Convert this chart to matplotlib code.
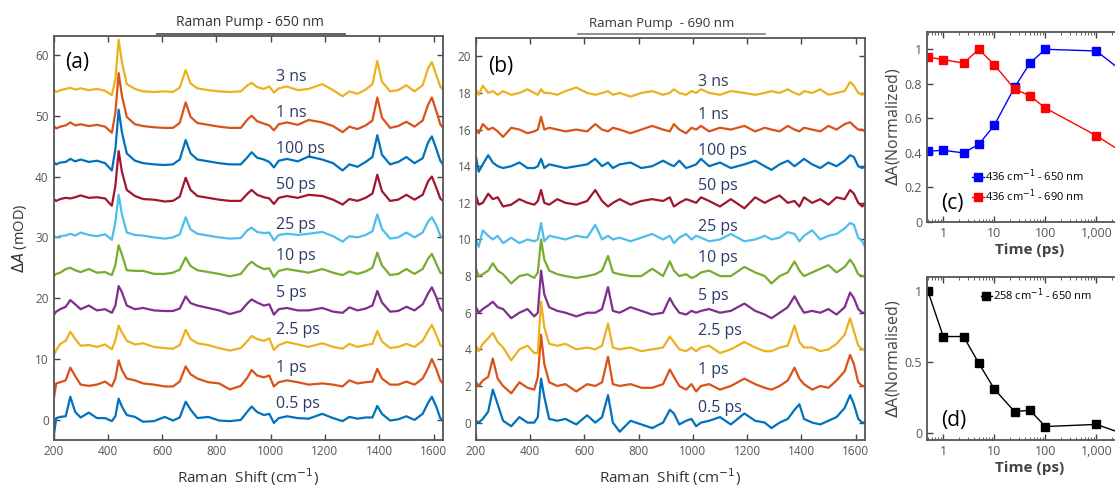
import matplotlib
matplotlib.use("Agg")
import matplotlib.pyplot as plt
from matplotlib.ticker import FixedLocator, FuncFormatter, LogLocator, NullFormatter

plt.rcParams["font.family"] = ["Open Sans", "DejaVu Sans"]

# ---- data -------------------------------------------------------------
raman_shift = [200, 210, 225, 245, 262, 280, 300, 330, 360, 390, 415, 428, 440, 452, 470,
               500, 530, 570, 610, 640, 665, 687, 705, 730, 770, 810, 850, 890, 915, 930,
               950, 975, 995, 1012, 1030, 1060, 1100, 1140, 1190, 1230, 1265, 1290, 1320,
               1350, 1375, 1393, 1410, 1440, 1470, 1500, 1530, 1560, 1580, 1594, 1610,
               1625, 1635]

delay_labels = ["0.5 ps", "1 ps", "2.5 ps", "5 ps", "10 ps", "25 ps", "50 ps",
                "100 ps", "1 ns", "3 ns"]
trace_colors = ["#0072BD", "#D95319", "#EDB120", "#7E2F8E", "#77AC30", "#4DBEEE",
                "#A2142F", "#0072BD", "#D95319", "#EDB120"]

# (a) Raman pump 650 nm, stacked spectra (mOD)
pump650 = [
    [-3.0, 0.3, 0.5, 0.6, 3.8, 1.3, 0.4, 1.2, 0.3, 0.3, -0.2, 0.6, 3.5, 2.2, 0.8,
     0.5, -0.3, -0.2, 0.5, -0.1, 0.4, 3.0, 1.7, 0.3, 0.5, -0.1, -0.2, 0.0, 1.4, 2.2,
     1.3, 0.8, 1.0, -0.5, 0.3, 0.6, 0.3, 0.2, 1.0, 0.3, -0.2, 0.5, 0.2,
     0.4, 0.4, 2.3, 1.0, -0.1, 0.1, 0.6, 0.0, 1.0, 2.8, 3.8, 2.2, 0.3, -0.1],
    [3.2, 6.0, 6.2, 6.5, 8.6, 7.2, 5.8, 5.6, 5.8, 6.3, 5.5, 6.8, 9.8, 8.2, 6.8,
     6.5, 6.0, 5.8, 5.5, 5.5, 6.3, 8.8, 7.5, 6.8, 6.2, 6.0, 5.0, 5.6, 7.0, 8.2,
     7.3, 7.0, 7.3, 5.5, 6.2, 6.5, 6.2, 5.8, 6.0, 5.8, 5.5, 6.5, 6.0,
     6.2, 6.3, 8.4, 6.8, 5.8, 5.8, 6.3, 5.8, 6.8, 8.5, 10.0, 8.4, 6.5, 6.0],
    [10.5, 11.5, 12.5, 13.0, 14.5, 13.3, 12.2, 12.3, 12.0, 12.4, 11.6, 13.1, 15.5, 14.4, 13.0,
     12.4, 12.6, 12.0, 11.8, 11.7, 12.3, 14.8, 13.3, 12.6, 12.3, 11.8, 11.4, 11.8, 13.0, 13.8,
     13.3, 13.0, 13.4, 11.5, 12.3, 12.8, 12.4, 12.0, 12.6, 12.0, 11.7, 12.5, 12.0,
     12.3, 12.5, 14.6, 12.9, 11.8, 12.0, 12.5, 12.0, 13.0, 14.6, 15.6, 14.0, 12.3, 12.0],
    [17.2, 17.8, 18.2, 18.6, 19.7, 19.0, 18.2, 18.8, 18.0, 18.2, 17.6, 18.8, 22.0, 21.0, 18.8,
     18.2, 18.4, 18.0, 17.9, 17.9, 18.3, 20.3, 19.2, 18.8, 18.4, 18.0, 17.4, 17.9, 19.2, 19.8,
     19.3, 18.8, 19.0, 17.3, 18.2, 18.4, 18.0, 18.0, 18.4, 17.8, 17.6, 18.5, 18.0,
     18.3, 18.8, 21.2, 19.3, 17.8, 17.9, 18.6, 18.0, 19.0, 20.8, 21.8, 20.2, 18.3, 17.8],
    [23.6, 24.0, 24.2, 24.8, 25.0, 24.6, 24.3, 24.8, 24.2, 24.3, 23.8, 25.5, 28.7, 27.2, 24.6,
     24.5, 24.5, 24.0, 24.0, 24.2, 24.7, 26.7, 25.3, 24.6, 24.3, 24.0, 23.6, 24.0, 25.4, 26.0,
     25.3, 24.8, 24.9, 23.5, 24.5, 24.8, 24.5, 24.2, 24.8, 24.2, 23.8, 24.4, 24.0,
     24.4, 25.0, 27.5, 25.4, 23.8, 24.0, 24.8, 24.0, 24.8, 26.5, 27.3, 25.7, 24.2, 24.0],
    [30.3, 30.0, 30.2, 30.3, 30.6, 30.3, 30.8, 30.4, 30.2, 30.5, 29.6, 32.5, 37.0, 33.8, 30.8,
     30.4, 30.3, 30.0, 29.8, 30.0, 30.5, 33.3, 31.3, 30.6, 30.3, 30.0, 29.8, 29.9, 31.2, 31.6,
     30.9, 30.7, 30.8, 29.5, 30.4, 30.6, 30.4, 30.6, 30.9, 30.2, 29.3, 30.2, 30.0,
     30.4, 31.0, 33.8, 31.4, 29.8, 30.0, 30.8, 30.0, 30.8, 32.6, 33.3, 32.0, 30.3, 30.0],
    [36.3, 36.0, 36.3, 36.5, 36.4, 36.6, 36.9, 36.5, 36.6, 36.4, 35.2, 38.5, 44.2, 40.8, 37.8,
     36.8, 36.3, 36.2, 35.9, 36.0, 36.7, 39.8, 37.8, 36.8, 36.5, 36.2, 36.0, 36.0, 37.2, 37.8,
     37.0, 36.6, 36.4, 35.5, 36.5, 36.8, 36.5, 37.0, 36.8, 36.2, 35.4, 36.3, 36.0,
     36.5, 37.2, 40.3, 37.6, 36.0, 36.2, 37.0, 36.2, 37.0, 39.2, 40.0, 38.2, 36.4, 36.0],
    [42.4, 42.0, 42.3, 42.4, 42.9, 42.5, 42.8, 42.4, 42.6, 42.2, 41.0, 44.5, 51.0, 47.3, 43.8,
     42.6, 42.2, 42.0, 41.9, 42.0, 42.8, 46.0, 43.8, 42.8, 42.5, 42.2, 42.0, 42.0, 43.2, 44.0,
     43.1, 42.8, 42.4, 41.5, 42.6, 42.9, 42.5, 43.3, 42.8, 42.2, 41.0, 42.0, 41.6,
     42.4, 43.2, 46.8, 43.6, 42.0, 42.4, 43.2, 42.2, 43.0, 45.6, 46.6, 44.6, 42.6, 42.0],
    [48.4, 47.9, 48.2, 48.4, 48.9, 48.4, 48.6, 48.3, 48.5, 48.2, 47.2, 50.5, 57.0, 53.3, 49.8,
     48.6, 48.3, 48.1, 48.0, 48.0, 48.8, 52.2, 49.8, 48.8, 48.5, 48.2, 48.0, 48.0, 49.4, 50.0,
     49.1, 48.7, 48.4, 47.6, 48.6, 48.9, 48.5, 49.3, 48.9, 48.3, 47.3, 48.2, 47.8,
     48.4, 49.2, 53.0, 49.7, 48.0, 48.3, 49.0, 48.2, 49.2, 51.8, 53.0, 50.8, 48.6, 48.0],
    [54.2, 53.9, 54.2, 54.4, 54.6, 54.3, 54.5, 54.2, 54.4, 54.1, 53.4, 56.0, 62.5, 58.8, 55.2,
     54.4, 54.0, 53.9, 54.0, 53.9, 54.6, 57.5, 55.3, 54.5, 54.2, 54.0, 53.9, 54.0, 55.0, 55.4,
     54.7, 54.4, 54.8, 53.8, 54.5, 54.8, 54.2, 54.4, 55.2, 54.2, 53.2, 54.0, 53.6,
     54.3, 55.2, 59.0, 55.6, 54.0, 54.2, 55.0, 54.0, 55.0, 57.8, 58.8, 56.7, 54.8, 54.3],
]

# (b) Raman pump 690 nm, stacked spectra (mOD)
pump690 = [
    [0.1, 0.0, 0.2, 0.6, 1.8, 1.0, 0.1, -0.2, 0.3, 0.0, 0.0, 0.3, 2.4, 1.4, 0.2,
     0.1, 0.2, -0.1, 0.4, 0.0, 0.3, 1.5, 0.0, -0.5, 0.1, -0.1, -0.3, 0.0, 0.7, 0.5,
     -0.1, 0.1, 0.2, -0.2, 0.0, 0.1, 0.3, -0.1, 0.5, 0.1, 0.0, -0.3, 0.0,
     0.2, 0.7, 1.0, 0.2, 0.0, -0.1, 0.1, 0.3, 0.8, 1.5, 1.0, 0.2, 0.0, 0.0],
    [2.2, 2.0, 2.3, 2.5, 3.5, 2.4, 2.0, 1.6, 2.2, 1.9, 1.8, 2.5, 4.8, 3.2, 2.2,
     2.0, 2.1, 1.7, 2.1, 2.0, 2.2, 3.6, 2.1, 2.0, 2.1, 1.9, 1.9, 2.1, 2.9, 2.5,
     2.0, 1.8, 2.1, 1.7, 2.0, 2.1, 1.8, 2.0, 2.4, 2.1, 1.9, 1.8, 2.0,
     2.3, 3.0, 2.4, 2.1, 1.8, 2.0, 1.9, 2.3, 2.8, 3.7, 3.2, 2.2, 2.0, 2.0],
    [4.2, 3.9, 4.3, 4.6, 4.9, 4.4, 4.1, 3.4, 4.0, 4.2, 3.8, 3.8, 6.6, 5.2, 4.3,
     4.2, 4.3, 4.0, 4.1, 4.0, 4.2, 5.4, 4.1, 4.0, 4.1, 3.9, 4.0, 4.1, 4.7, 4.4,
     4.0, 3.9, 4.1, 3.9, 4.1, 4.2, 3.8, 4.0, 4.4, 4.1, 3.9, 3.9, 4.1,
     4.2, 5.3, 4.4, 4.1, 4.1, 3.9, 4.0, 4.3, 4.8, 5.7, 5.0, 4.2, 4.0, 4.0],
    [6.3, 6.0, 6.2, 6.4, 6.6, 6.3, 6.2, 5.7, 6.0, 6.2, 5.8, 6.0, 8.3, 7.0, 6.3,
     6.1, 6.0, 5.8, 6.0, 6.0, 6.2, 7.4, 6.1, 6.0, 6.3, 6.1, 5.9, 6.0, 6.8, 6.4,
     6.0, 5.9, 6.1, 6.0, 6.1, 6.2, 6.0, 6.1, 6.5, 6.1, 5.9, 5.7, 6.0,
     6.3, 6.9, 6.4, 6.0, 6.1, 6.0, 6.2, 5.9, 6.3, 7.1, 6.8, 6.2, 6.0, 6.0],
    [8.4, 8.0, 8.1, 8.3, 8.7, 8.3, 8.1, 7.6, 8.0, 8.1, 7.9, 8.2, 10.0, 8.9, 8.3,
     8.1, 8.0, 7.9, 8.0, 8.1, 8.3, 9.1, 8.2, 8.1, 8.0, 8.0, 8.4, 8.0, 8.8, 8.3,
     8.0, 8.1, 7.9, 8.0, 8.2, 8.3, 8.0, 8.0, 8.5, 8.2, 8.0, 7.6, 8.0,
     8.2, 8.8, 8.3, 8.0, 8.2, 8.4, 8.6, 8.2, 8.5, 8.9, 8.6, 8.1, 8.0, 8.0],
    [10.0, 9.6, 10.5, 10.2, 10.0, 10.2, 9.8, 10.1, 9.8, 10.0, 9.9, 10.0, 10.9, 9.9, 10.2,
     10.1, 10.0, 10.2, 10.1, 10.8, 10.0, 10.2, 10.0, 10.1, 9.9, 10.1, 10.3, 10.0, 10.2, 9.8,
     10.1, 10.3, 10.0, 10.2, 10.1, 9.9, 10.0, 10.3, 9.9, 10.0, 10.2, 10.0, 10.1,
     10.4, 10.3, 9.9, 10.2, 10.5, 10.0, 10.2, 10.3, 10.6, 10.9, 10.8, 10.1, 9.9, 9.6],
    [12.4, 11.9, 12.0, 12.5, 12.2, 12.3, 11.8, 11.9, 12.2, 12.0, 11.9, 12.1, 12.7, 12.0, 11.9,
     12.2, 12.0, 11.9, 12.1, 12.7, 12.1, 11.8, 12.0, 12.2, 11.9, 12.1, 12.2, 12.1, 12.3, 11.8,
     12.0, 12.2, 12.1, 12.0, 12.3, 12.1, 11.8, 12.2, 11.7, 12.3, 12.0, 12.2, 12.4,
     12.0, 12.1, 11.8, 12.3, 12.0, 12.2, 11.9, 12.3, 12.2, 12.7, 12.5, 12.0, 11.8, 12.0],
    [14.5, 13.7, 14.1, 14.6, 14.2, 14.0, 13.9, 14.0, 14.2, 13.9, 13.9, 14.0, 14.4, 13.9, 14.1,
     14.0, 13.9, 14.0, 14.1, 14.4, 14.0, 14.2, 13.9, 14.1, 14.2, 13.9, 14.0, 14.3, 14.1, 14.0,
     14.3, 13.9, 14.0, 14.1, 14.4, 14.0, 14.2, 13.9, 14.1, 14.3, 14.0, 13.8, 14.1,
     14.3, 14.0, 14.2, 14.4, 14.1, 13.9, 14.2, 14.0, 14.3, 14.6, 14.5, 14.0, 13.9, 14.0],
    [16.0, 15.8, 16.3, 16.0, 16.1, 15.9, 15.6, 16.1, 16.0, 15.8, 15.9, 16.0, 16.7, 16.0, 16.1,
     16.0, 15.9, 16.0, 15.9, 16.3, 16.0, 15.9, 16.1, 16.0, 15.8, 16.0, 16.2, 16.0, 15.9, 16.3,
     16.0, 15.8, 16.1, 16.0, 16.2, 15.9, 16.1, 16.0, 16.2, 15.9, 16.1, 16.0, 15.9,
     16.2, 16.0, 15.9, 16.1, 16.0, 15.9, 16.2, 16.0, 16.3, 16.4, 16.2, 16.0, 16.0, 15.9],
    [18.2, 17.9, 18.4, 18.0, 18.1, 17.9, 18.1, 17.9, 18.0, 18.2, 18.0, 17.9, 18.2, 18.0, 18.0,
     17.9, 18.1, 18.3, 18.0, 17.9, 18.0, 18.1, 17.9, 18.0, 17.8, 18.0, 18.1, 17.9, 18.0, 18.2,
     18.0, 17.9, 18.1, 18.0, 18.2, 18.0, 17.9, 18.1, 18.0, 17.9, 18.0, 18.1, 18.0,
     18.2, 18.0, 17.9, 18.1, 18.0, 18.2, 17.9, 18.0, 18.1, 18.6, 18.4, 18.0, 17.9, 18.0],
]

# label heights (data units) for each delay
label_y_650 = [2.6, 8.5, 14.8, 20.9, 27.0, 32.0, 38.6, 44.5, 50.5, 56.3]
label_y_690 = [0.8, 2.85, 5.0, 6.9, 9.0, 10.7, 12.9, 14.85, 16.8, 18.6]

# (c) / (d) kinetics
time_ps = [0.5, 1, 2.5, 5, 10, 25, 50, 100, 1000, 3000]
band436_650 = [0.41, 0.415, 0.40, 0.45, 0.56, 0.78, 0.92, 1.0, 0.99, 0.88]
band436_690 = [0.955, 0.94, 0.92, 1.0, 0.91, 0.77, 0.73, 0.66, 0.50, 0.41]
band258_650 = [1.0, 0.68, 0.68, 0.49, 0.31, 0.15, 0.16, 0.045, 0.06, 0.0]

# ---- figure -----------------------------------------------------------
W, H = 1115, 491
fig = plt.figure(figsize=(W / 100, H / 100), dpi=100)

def px_axes(x0, y0, x1, y1):
    return fig.add_axes([x0 / W, 1 - y1 / H, (x1 - x0) / W, (y1 - y0) / H])

def style_box(ax):
    for s in ax.spines.values():
        s.set_color("#555555")
        s.set_linewidth(1.3)
    ax.tick_params(direction="in", top=True, right=True, length=4, width=1,
                   color="#444444", labelsize=8.5, labelcolor="#555555")

label_color = "#2E3A6A"

ax_a = px_axes(53.5, 36, 443, 440)
ax_b = px_axes(476, 38, 865, 440)

for ax, spectra, ly, ylim, yticks in [
        (ax_a, pump650, label_y_650, (-3.3, 63.1), range(0, 61, 10)),
        (ax_b, pump690, label_y_690, (-0.95, 21.0), range(0, 21, 2))]:
    for trace, col, lab, yy in zip(spectra, trace_colors, delay_labels, ly):
        ax.plot(raman_shift, trace, color=col, lw=1.6)
        ax.text(1020, yy, lab, color=label_color, fontsize=11.5, va="center", ha="left")
    ax.set_xlim(200, 1635)
    ax.set_ylim(*ylim)
    ax.set_xticks(range(200, 1601, 200))
    ax.set_yticks(list(yticks))
    style_box(ax)
    ax.set_xlabel("Raman  Shift (cm$^{-1}$)", fontsize=11, color="#333333", labelpad=6)

ax_a.set_ylabel(r"$\Delta A$ (mOD)", fontsize=10.5, color="#333333", labelpad=4)
ax_a.text(0.03, 0.935, "(a)", transform=ax_a.transAxes, fontsize=15, va="center")
ax_b.text(0.03, 0.93, "(b)", transform=ax_b.transAxes, fontsize=15, va="center")

# titles with underline
fig.text(250 / W, 1 - 23 / H, "Raman Pump - 650 nm", ha="center", va="center",
         fontsize=10, color="#333333")
fig.add_artist(plt.Line2D([157 / W, 345 / W], [1 - 34 / H, 1 - 34 / H],
                          color="#555555", lw=1.3))
fig.text(662 / W, 1 - 23 / H, "Raman Pump  - 690 nm", ha="center", va="center",
         fontsize=9.5, color="#333333")
fig.add_artist(plt.Line2D([578 / W, 765 / W], [1 - 34 / H, 1 - 34 / H],
                          color="#888888", lw=1.3))

# kinetics panels (extend beyond the right edge, as in the cropped original)
ax_c = px_axes(927, 32, 1132, 222)
ax_d = px_axes(927, 277, 1132, 440)

ax_c.plot(time_ps, band436_650, "-s", color="#0000FF", lw=1, ms=6,
          label="436 cm$^{-1}$ - 650 nm")
ax_c.plot(time_ps, band436_690, "-s", color="#FF0000", lw=1, ms=6,
          label="436 cm$^{-1}$ - 690 nm")
ax_d.plot(time_ps, band258_650, "-s", color="black", lw=1, ms=6,
          label="258 cm$^{-1}$ - 650 nm")

for ax in (ax_c, ax_d):
    ax.set_xscale("log")
    ax.set_xlim(0.48, 5000)
    ax.xaxis.set_major_locator(FixedLocator([1, 10, 100, 1000, 10000]))
    ax.xaxis.set_major_formatter(FuncFormatter(lambda v, p: f"{v:,.0f}"))
    ax.xaxis.set_minor_locator(LogLocator(base=10, subs=range(2, 10)))
    ax.xaxis.set_minor_formatter(NullFormatter())
    style_box(ax)
    ax.tick_params(labelsize=9)
    ax.tick_params(which="minor", direction="in", top=True, length=2, color="#444444")
    ax.set_xlabel("Time (ps)", fontsize=11, fontweight="bold", color="#444444", labelpad=2)

ax_c.set_ylim(0, 1.1)
ax_c.set_yticks([0, 0.2, 0.4, 0.6, 0.8, 1])
ax_c.yaxis.set_major_formatter(FuncFormatter(lambda v, p: f"{v:g}"))
ax_c.set_ylabel(r"$\Delta$A(Normalized)", fontsize=11.5, color="#444444", labelpad=2)
ax_c.legend(loc="lower left", bbox_to_anchor=(0.2, 0.07), frameon=False, fontsize=8,
            handlelength=1.0, handletextpad=0.1, borderaxespad=0, labelspacing=0.3)
ax_c.text(0.07, 0.1, "(c)", transform=ax_c.transAxes, fontsize=15, va="center")

ax_d.set_ylim(-0.05, 1.1)
ax_d.set_yticks([0, 0.5, 1])
ax_d.yaxis.set_major_formatter(FuncFormatter(lambda v, p: f"{v:g}"))
ax_d.set_ylabel(r"$\Delta$A(Normalised)", fontsize=11.5, color="#444444", labelpad=2)
ax_d.legend(loc="upper left", bbox_to_anchor=(0.24, 0.97), frameon=False, fontsize=8,
            handlelength=1.0, handletextpad=0.1, borderaxespad=0)
ax_d.text(0.07, 0.12, "(d)", transform=ax_d.transAxes, fontsize=15, va="center")

fig.savefig("out.png", dpi=100)
